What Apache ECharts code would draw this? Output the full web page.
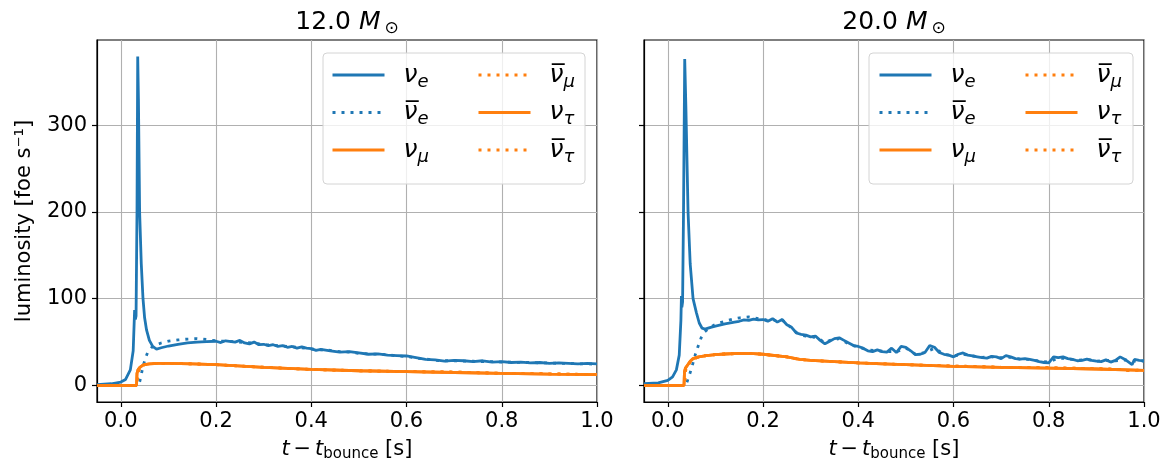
<!DOCTYPE html>
<html>
<head>
<meta charset="utf-8">
<script src="https://cdn.jsdelivr.net/npm/echarts@6/dist/echarts.min.js"></script>
<style>
  html, body { margin: 0; padding: 0; background: #fff; }
  #chart { width: 1172px; height: 471px; }
</style>
</head>
<body>
<div id="chart"></div>
<script>
// panel titles (progenitor masses)
var panelMasses = ['12.0', '20.0'];
var xTicks = [0.0, 0.2, 0.4, 0.6, 0.8, 1.0];
var yTicks = [0, 100, 200, 300];

// 12 Msun: [t - t_bounce (s), luminosity (foe/s)]
var nue12 = [[-0.05,1],[-0.02,2],[0,4],[0.01,7],[0.02,18],[0.026,40],[0.029,87],[0.0305,76],[0.032,80],[0.034,200],[0.0355,379],[0.037,330],[0.0395,200],[0.043,140],[0.0466,100],[0.05,78],[0.054,64],[0.06,52],[0.067,45],[0.075,42],[0.085,43.5],[0.1,45.5],[0.12,47.5],[0.14,49],[0.16,50],[0.18,50.5],[0.2,51],[0.21,49.5],[0.22,51.5],[0.24,50],[0.25,52],[0.26,49],[0.27,48],[0.28,50],[0.29,47],[0.3,47.5],[0.31,46],[0.32,47],[0.33,45],[0.34,46],[0.35,44],[0.36,45],[0.37,43],[0.38,44.5],[0.39,43],[0.4,42.5],[0.41,40.5],[0.42,41.5],[0.44,40],[0.46,38.5],[0.48,39],[0.5,37.5],[0.52,36],[0.54,36.5],[0.56,35],[0.58,34.5],[0.6,34],[0.62,32],[0.64,30],[0.66,29.5],[0.68,28],[0.7,29],[0.72,28.5],[0.74,27.5],[0.76,28.5],[0.78,27],[0.8,27.5],[0.82,26.5],[0.84,27],[0.86,26],[0.88,26.5],[0.9,25.5],[0.92,26],[0.94,25.5],[0.96,25],[0.98,25.5],[1.0,25]];
var nuebar12 = [[-0.05,0],[0.036,0],[0.04,5],[0.0466,22],[0.052,32],[0.057,39],[0.065,44],[0.075,47],[0.085,49],[0.1,51],[0.12,52.5],[0.14,53.5],[0.16,54],[0.18,53],[0.2,51.5],[0.22,51],[0.24,50.5],[0.26,49.5],[0.28,49],[0.3,47],[0.32,46.5],[0.34,45.5],[0.36,44.5],[0.38,43.5],[0.4,42],[0.42,41],[0.44,40.5],[0.46,39],[0.48,38.5],[0.5,37],[0.52,36.5],[0.54,36],[0.56,35.5],[0.58,34],[0.6,33.5],[0.62,31.5],[0.64,30.5],[0.66,29],[0.68,28.5],[0.7,28.5],[0.72,28],[0.74,28],[0.76,27.5],[0.78,27.5],[0.8,27],[0.82,27],[0.84,26.5],[0.86,26.5],[0.88,26],[0.9,26],[0.92,25.5],[0.94,25.5],[0.96,25],[0.98,25],[1.0,24.5]];
var nux12 = [[-0.05,0],[0.033,0],[0.034,14],[0.036,18],[0.04,21],[0.045,23],[0.05,24],[0.06,25],[0.08,25.5],[0.1,25.5],[0.15,25],[0.2,24],[0.3,21],[0.4,18.5],[0.5,17],[0.6,16],[0.7,15],[0.8,14],[0.9,13],[1.0,12.5]];
var nuxbar12 = [[-0.05,0],[0.034,0],[0.036,15],[0.04,20],[0.045,23],[0.05,24],[0.06,25],[0.08,25.5],[0.1,25.5],[0.15,25],[0.2,24],[0.3,21],[0.4,18.5],[0.5,17],[0.6,16],[0.7,15.5],[0.8,14],[0.9,13.5],[1.0,12.5]];

// 20 Msun
var nue20 = [[-0.05,2],[-0.02,3],[0,6],[0.01,10],[0.018,18],[0.024,35],[0.0275,75],[0.0286,103],[0.0295,90],[0.031,96],[0.033,200],[0.0355,376],[0.038,320],[0.0425,200],[0.047,140],[0.053,100],[0.06,84],[0.066,72],[0.072,66],[0.078,65],[0.09,67],[0.1,68.5],[0.12,71],[0.14,73],[0.15,74],[0.16,75.5],[0.17,75],[0.18,76.5],[0.19,75.5],[0.2,76],[0.21,74],[0.22,77],[0.23,73],[0.24,76],[0.25,70],[0.26,67],[0.27,60.5],[0.28,59],[0.29,58],[0.3,56],[0.31,57],[0.32,52],[0.33,48],[0.34,51],[0.35,54],[0.36,55],[0.37,52],[0.38,49],[0.39,46],[0.4,45],[0.41,43],[0.42,40],[0.43,39],[0.44,41],[0.45,39],[0.46,38.5],[0.47,43],[0.48,38],[0.49,45],[0.5,44],[0.51,40],[0.52,35.5],[0.53,36],[0.54,38],[0.55,46],[0.56,44],[0.57,38],[0.58,36],[0.59,35],[0.6,33],[0.61,36],[0.62,37.5],[0.63,35],[0.64,34],[0.65,33],[0.66,32],[0.67,31.5],[0.68,33.5],[0.69,33],[0.7,31],[0.71,34.5],[0.72,33],[0.73,31],[0.74,30.5],[0.75,31],[0.76,30],[0.77,29],[0.78,27.5],[0.79,26.5],[0.8,26],[0.81,33],[0.82,32],[0.83,33],[0.84,31],[0.85,30],[0.86,28.5],[0.87,29],[0.88,30.5],[0.89,29],[0.9,28],[0.91,27.5],[0.92,29.5],[0.93,27],[0.94,29],[0.95,33],[0.96,30],[0.97,26],[0.975,24],[0.98,30],[0.99,29],[1.0,28.5]];
var nuebar20 = [[-0.05,0],[0.037,0],[0.041,5],[0.047,15],[0.053,26],[0.058,36],[0.0635,45],[0.07,55],[0.0775,62],[0.09,67.5],[0.102,71],[0.12,74],[0.14,77],[0.151,78],[0.17,79],[0.19,77],[0.2,76.5],[0.21,75],[0.22,76],[0.23,74],[0.24,75.5],[0.25,71],[0.26,66],[0.27,61],[0.28,58],[0.29,57],[0.3,57],[0.31,55],[0.32,53],[0.33,49],[0.34,52],[0.35,53],[0.36,54],[0.37,51],[0.38,48],[0.39,46],[0.4,44],[0.42,41],[0.44,40],[0.46,39],[0.48,39],[0.5,43],[0.52,36],[0.54,38],[0.56,43],[0.58,36],[0.6,34],[0.62,36],[0.64,34],[0.66,32.5],[0.68,33],[0.7,32],[0.72,32.5],[0.74,30.5],[0.76,30],[0.78,28],[0.8,27],[0.82,31.5],[0.84,31],[0.86,29],[0.88,30],[0.9,28],[0.92,29],[0.94,28.5],[0.96,29.5],[0.98,28],[1.0,28]];
var nux20 = [[-0.05,0],[0.034,0],[0.035,16],[0.037,20],[0.042,24],[0.047,28],[0.053,31],[0.065,33],[0.081,34.5],[0.1,35.5],[0.12,36.3],[0.151,37],[0.18,36.8],[0.2,36],[0.25,33],[0.277,30],[0.3,29],[0.35,27.5],[0.4,26],[0.45,25],[0.5,24],[0.6,22],[0.7,21],[0.8,20],[0.9,19],[1.0,17.5]];
var nuxbar20 = [[-0.05,0],[0.035,0],[0.037,17],[0.042,23],[0.047,27],[0.053,30.5],[0.065,33],[0.081,34.5],[0.1,35.5],[0.12,36.3],[0.151,37],[0.18,36.8],[0.2,36],[0.25,33],[0.277,30],[0.3,29],[0.35,27.5],[0.4,26],[0.45,25],[0.5,24],[0.6,22.5],[0.7,21],[0.8,20.5],[0.9,19.5],[0.95,18.5],[0.97,17],[1.0,18]];

var flavours = ['nue', 'nuebar', 'numu', 'numubar', 'nutau', 'nutaubar'];
var flavourLabels = {
    nue: '{n|\u03bd}{s|e}',
    nuebar: '{n|\u03bd\u0305}{s|e}',
    numu: '{n|\u03bd}{s|\u03bc}',
    numubar: '{n|\u03bd\u0305}{s|\u03bc}',
    nutau: '{n|\u03bd}{s|\u03c4}',
    nutaubar: '{n|\u03bd\u0305}{s|\u03c4}'
};

var blue = '#1f77b4';
var orange = '#ff7f0e';
var dots = [3, 6];

var panelData = [
    {nue: nue12, nuebar: nuebar12, numu: nux12, numubar: nuxbar12, nutau: nux12, nutaubar: nuxbar12},
    {nue: nue20, nuebar: nuebar20, numu: nux20, numubar: nuxbar20, nutau: nux20, nutaubar: nuxbar20}
];

function lineStyleFor(name) {
    var color = name.indexOf('nue') === 0 ? blue : orange;
    var dotted = name.indexOf('bar') > 0;
    return {color: color, width: 2.8, type: dotted ? dots : 'solid', cap: 'butt'};
}

var series = [];
panelData.forEach(function (p, i) {
    flavours.forEach(function (f) {
        var ls = lineStyleFor(f);
        series.push({
            name: f,
            type: 'line',
            xAxisIndex: i,
            yAxisIndex: i,
            showSymbol: false,
            symbol: 'none',
            color: ls.color,
            lineStyle: ls,
            data: p[f]
        });
    });
});

var legendRich = {
    n: {fontFamily: 'DejaVu Sans', fontStyle: 'italic', fontSize: 25, lineHeight: 24, padding: [0, 0, 0, 14], color: '#000'},
    s: {fontFamily: 'DejaVu Sans', fontStyle: 'italic', fontSize: 18, lineHeight: 20, padding: [14, 0, 0, 0], color: '#000'}
};

function makeLegend(left, names) {
    return {
        orient: 'vertical',
        left: left,
        top: 59,
        padding: 0,
        itemWidth: 52,
        itemHeight: 14,
        itemGap: 5.5,
        z: 10,
        selectedMode: false,
        itemStyle: {opacity: 0},
        lineStyle: {width: 3},
        data: names,
        formatter: function (name) { return flavourLabels[name]; },
        textStyle: {rich: legendRich}
    };
}

var grids = [
    {left: 97, right: 575, top: 40, bottom: 69},
    {left: 644, right: 28, top: 40, bottom: 69}
];

var titleRich = {
    a: {fontFamily: 'DejaVu Sans', fontWeight: 'normal', fontSize: 25, color: '#000'},
    m: {fontFamily: 'DejaVu Sans', fontWeight: 'normal', fontStyle: 'italic', fontSize: 25, color: '#000'},
    o: {fontFamily: 'DejaVu Sans', fontWeight: 'normal', fontSize: 17, color: '#000', padding: [12, 0, 0, 4]}
};

var axisNameRich = {
    i: {fontFamily: 'DejaVu Sans', fontStyle: 'italic', fontSize: 21, lineHeight: 24, color: '#000'},
    r: {fontFamily: 'DejaVu Sans', fontSize: 21, lineHeight: 24, color: '#000'},
    s: {fontFamily: 'DejaVu Sans', fontSize: 15, lineHeight: 18, padding: [10, 0, 0, 0], color: '#000'}
};

var option = {
    animation: false,
    backgroundColor: '#fff',
    textStyle: {fontFamily: 'DejaVu Sans'},
    title: panelMasses.map(function (m, i) {
        var cx = i === 0 ? 347 : 894;
        return {
            text: '{a|' + m + ' }{m|M}{o|\u2299}',
            left: cx,
            textAlign: 'center',
            top: 8,
            padding: 0,
            textStyle: {fontWeight: 'normal', rich: titleRich}
        };
    }),
    legend: [
        makeLegend(331, ['nue', 'nuebar', 'numu']),
        makeLegend(477, ['numubar', 'nutau', 'nutaubar']),
        makeLegend(878, ['nue', 'nuebar', 'numu']),
        makeLegend(1024, ['numubar', 'nutau', 'nutaubar'])
    ],
    graphic: [
        {type: 'rect', z: 3, shape: {x: 323, y: 53, width: 262, height: 131, r: 4},
            style: {fill: 'rgba(255,255,255,0.8)', stroke: '#d4d4d4', lineWidth: 1}},
        {type: 'rect', z: 3, shape: {x: 869, y: 53, width: 264, height: 131, r: 4},
            style: {fill: 'rgba(255,255,255,0.8)', stroke: '#d4d4d4', lineWidth: 1}}
    ],
    grid: grids.map(function (g) {
        return Object.assign({show: true, borderColor: '#000', borderWidth: 1.2, backgroundColor: 'transparent'}, g);
    }),
    xAxis: [0, 1].map(function (i) {
        return {
            type: 'value',
            gridIndex: i,
            min: -0.05,
            max: 1.0,
            name: '{i|t} {r|\u2212} {i|t}{s|bounce}{r| [s]}',
            nameLocation: 'middle',
            nameGap: 33,
            nameTextStyle: {rich: axisNameRich, lineHeight: 24},
            axisLine: {show: true, onZero: false, lineStyle: {color: '#000', width: 1.2}},
            axisTick: {show: true, customValues: xTicks, length: 5, lineStyle: {color: '#000', width: 1.2}},
            axisLabel: {customValues: xTicks, fontSize: 21, color: '#000', margin: 9,
                formatter: function (v) { return v.toFixed(1); }},
            splitLine: {show: true, lineStyle: {color: '#b0b0b0', width: 1.1}}
        };
    }),
    yAxis: [0, 1].map(function (i) {
        return {
            type: 'value',
            gridIndex: i,
            min: -19,
            max: 398,
            name: i === 0 ? 'luminosity [foe s\u207b\u00b9]' : '',
            nameLocation: 'middle',
            nameGap: 62,
            nameTextStyle: {fontSize: 21, color: '#000'},
            axisLine: {show: true, onZero: false, lineStyle: {color: '#000', width: 1.2}},
            axisTick: {show: true, customValues: yTicks, length: 5, lineStyle: {color: '#000', width: 1.2}},
            axisLabel: {show: i === 0, customValues: yTicks, fontSize: 21, color: '#000', margin: 10},
            splitLine: {show: true, lineStyle: {color: '#b0b0b0', width: 1.1}}
        };
    }),
    series: series
};

var chart = echarts.init(document.getElementById('chart'));
chart.setOption(option);
</script>
</body>
</html>
